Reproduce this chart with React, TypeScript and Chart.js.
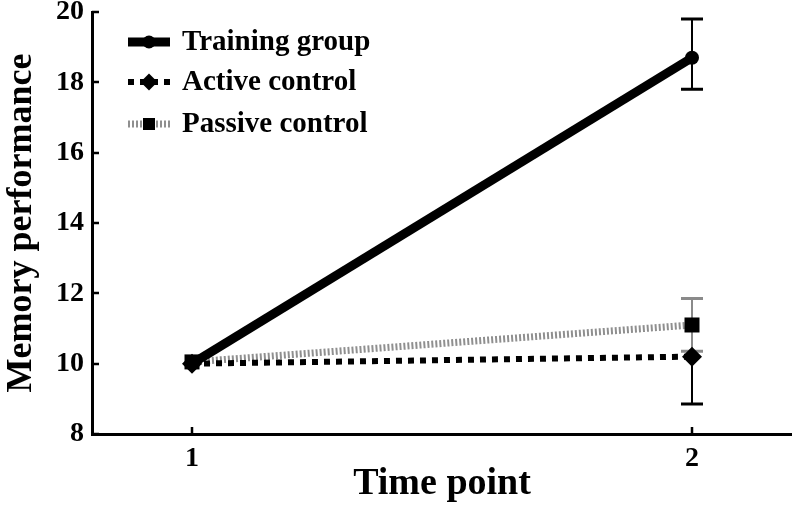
import React, { useEffect, useRef } from 'react';
import { Chart, registerables } from 'chart.js';

Chart.register(...registerables);

const timePoints = [1, 2];
const trainingMean = [10.0, 18.7];
const trainingLow = [10.0, 17.8];
const trainingHigh = [10.0, 19.8];
const activeMean = [10.0, 10.2];
const activeLow = [10.0, 8.85];
const activeHigh = [10.0, 11.85];
const passiveMean = [10.05, 11.1];
const passiveLow = [10.05, 10.35];
const passiveHigh = [10.05, 11.85];
const yTicks = [8, 10, 12, 14, 16, 18, 20];
const xTicks = [1, 2];
const seriesNames = ['Training group', 'Active control', 'Passive control'];

const FONT = "'Liberation Serif', 'Times New Roman', serif";

type Style = { color: string; width: number; dash: number[]; marker: string; size: number; legendSize: number; errColor: string };
const styles: Style[] = [
  { color: '#000000', width: 9, dash: [], marker: 'circle', size: 7, legendSize: 6.5, errColor: '#000000' },
  { color: '#000000', width: 6, dash: [6, 6], marker: 'diamond', size: 10, legendSize: 8.5, errColor: '#000000' },
  { color: '#8f8f8f', width: 7, dash: [2, 2], marker: 'square', size: 7.5, legendSize: 6, errColor: '#8a8a8a' },
];

function drawMarker(ctx: CanvasRenderingContext2D, kind: string, x: number, y: number, s: number) {
  ctx.save();
  ctx.fillStyle = '#000';
  ctx.beginPath();
  if (kind === 'circle') {
    ctx.arc(x, y, s, 0, Math.PI * 2);
  } else if (kind === 'diamond') {
    ctx.moveTo(x, y - s);
    ctx.lineTo(x + s, y);
    ctx.lineTo(x, y + s);
    ctx.lineTo(x - s, y);
    ctx.closePath();
  } else {
    ctx.rect(x - s, y - s, 2 * s, 2 * s);
  }
  ctx.fill();
  ctx.restore();
}

const means = [trainingMean, activeMean, passiveMean];
const lows = [trainingLow, activeLow, passiveLow];
const highs = [trainingHigh, activeHigh, passiveHigh];

const errorBarPlugin = {
  id: 'errorBars',
  beforeDatasetsDraw(chart: any) {
    const ctx = chart.ctx as CanvasRenderingContext2D;
    const xs = chart.scales.x;
    const ys = chart.scales.y;
    [0, 1, 2].forEach((di) => {
      ctx.save();
      ctx.strokeStyle = styles[di].errColor;
      timePoints.forEach((t, i) => {
        if (highs[di][i] - lows[di][i] < 0.01) return;
        const px = xs.getPixelForValue(t);
        const py1 = ys.getPixelForValue(lows[di][i]);
        const py2 = ys.getPixelForValue(highs[di][i]);
        ctx.lineWidth = 2;
        ctx.beginPath();
        ctx.moveTo(px, py1);
        ctx.lineTo(px, py2);
        ctx.stroke();
        ctx.lineWidth = 3;
        ctx.beginPath();
        ctx.moveTo(px - 11, py1);
        ctx.lineTo(px + 11, py1);
        ctx.moveTo(px - 11, py2);
        ctx.lineTo(px + 11, py2);
        ctx.stroke();
      });
      ctx.restore();
    });
  },
};

const markerPlugin = {
  id: 'markersAndLegend',
  afterDatasetsDraw(chart: any) {
    const ctx = chart.ctx as CanvasRenderingContext2D;
    const xs = chart.scales.x;
    const ys = chart.scales.y;
    [2, 1, 0].forEach((di) => {
      means[di].forEach((v, i) => {
        drawMarker(ctx, styles[di].marker, xs.getPixelForValue(timePoints[i]), ys.getPixelForValue(v), styles[di].size);
      });
    });
  },
  afterDraw(chart: any) {
    const ctx = chart.ctx as CanvasRenderingContext2D;
    const xs = chart.scales.x;
    const ys = chart.scales.y;
    const area = chart.chartArea;
    ctx.save();
    ctx.strokeStyle = '#000';
    ctx.lineWidth = 2.5;
    ctx.beginPath();
    yTicks.forEach((v) => {
      const py = Math.round(ys.getPixelForValue(v));
      ctx.moveTo(area.left, py);
      ctx.lineTo(area.left + 7, py);
    });
    xTicks.forEach((v) => {
      const px = Math.round(xs.getPixelForValue(v));
      ctx.moveTo(px, area.bottom);
      ctx.lineTo(px, area.bottom - 7);
    });
    ctx.stroke();
    ctx.restore();

    const rows = [42, 82, 124];
    seriesNames.forEach((name, di) => {
      const st = styles[di];
      const y = rows[di];
      ctx.save();
      ctx.strokeStyle = st.color;
      ctx.lineWidth = st.width;
      ctx.setLineDash(st.dash);
      ctx.beginPath();
      ctx.moveTo(128, y);
      ctx.lineTo(170, y);
      ctx.stroke();
      ctx.restore();
      drawMarker(ctx, st.marker, 149, y, st.legendSize);
      ctx.save();
      ctx.fillStyle = '#000';
      ctx.font = `bold 29px ${FONT}`;
      ctx.textBaseline = 'middle';
      ctx.textAlign = 'left';
      ctx.fillText(name, 182, y + 1);
      ctx.restore();
    });
  },
};

export default function App() {
  const ref = useRef<HTMLCanvasElement | null>(null);
  useEffect(() => {
    if (!ref.current) return;
    const chart = new Chart(ref.current, {
      type: 'line',
      data: {
        datasets: seriesNames.map((name, di) => ({
          label: name,
          data: timePoints.map((t, i) => ({ x: t, y: means[di][i] })),
          borderColor: styles[di].color,
          borderWidth: styles[di].width,
          borderDash: styles[di].dash,
          borderCapStyle: 'butt',
          pointRadius: 0,
          fill: false,
          tension: 0,
        })) as any,
      },
      options: {
        animation: false,
        responsive: false,
        devicePixelRatio: 1,
        layout: { padding: { top: 0, right: 0, left: 0, bottom: 0 } },
        plugins: { legend: { display: false }, tooltip: { enabled: false } },
        scales: {
          x: {
            type: 'linear',
            min: 0.8,
            max: 2.2,
            afterBuildTicks: (s: any) => { s.ticks = xTicks.map((v) => ({ value: v })); },
            afterFit: (s: any) => { s.height = 73; s.paddingLeft = 0; s.paddingRight = 0; },
            grid: { display: false, drawTicks: false },
            border: { display: true, color: '#000', width: 3 },
            ticks: { color: '#000', font: { family: FONT, size: 28, weight: 'bold' }, padding: 8, maxRotation: 0 },
            title: { display: true, text: 'Time point', color: '#000', font: { family: FONT, size: 38, weight: 'bold' }, padding: 0 },
          },
          y: {
            type: 'linear',
            min: 8,
            max: 20,
            afterBuildTicks: (s: any) => { s.ticks = yTicks.map((v) => ({ value: v })); },
            afterFit: (s: any) => { s.width = 92; s.paddingTop = 12; s.paddingBottom = 0; },
            grid: { display: false, drawTicks: false },
            border: { display: true, color: '#000', width: 3 },
            ticks: { color: '#000', font: { family: FONT, size: 28, weight: 'bold' }, padding: 8 },
            title: { display: true, text: 'Memory performance', color: '#000', font: { family: FONT, size: 36, weight: 'bold' }, padding: 0 },
          },
        },
      } as any,
      plugins: [errorBarPlugin, markerPlugin],
    });
    return () => chart.destroy();
  }, []);
  return (
    <div style={{ position: 'fixed', left: 0, top: 0, width: 792, height: 507, background: '#fff' }}>
      <canvas ref={ref} width={792} height={507} />
    </div>
  );
}
